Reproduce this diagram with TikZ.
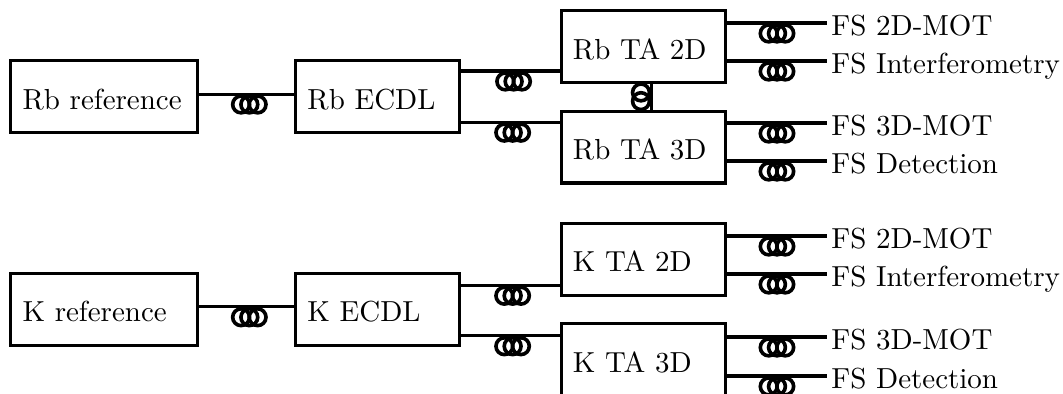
\documentclass[tikz,border=0pt]{standalone}
\usetikzlibrary{positioning}

\tikzset{
    coil/.pic={
        \draw[line width=1.25pt] (-2.85pt,-3.6pt) circle (2.9pt);
        \draw[line width=1.25pt] (0,-3.6pt) circle (2.9pt);
        \draw[line width=1.25pt] (2.85pt,-3.6pt) circle (2.9pt);
    },
    shortcoil/.pic={
        \draw[line width=1.25pt] (-1.5pt,-3.6pt) circle (2.9pt);
        \draw[line width=1.25pt] (1.5pt,-3.6pt) circle (2.9pt);
    }
}

\begin{document}
\begin{tikzpicture}[
            x = 0.345pt,
            y = -0.345pt,
            line width = 1.05pt
        ]
        \tikzstyle{every box}=[
            draw = black,
            fill = white,
            rectangle,
            align = left,
            inner xsep = 4pt,
            inner ysep = 0pt,
            minimum height = 24.8pt,
            text height = 8.7pt,
            text depth = 0pt
        ]
        \tikzstyle{box}=[every box, text width = 48.6pt]
        \tikzstyle{refbox}=[every box, text width = 56.2pt]
        \tikzstyle{fslabel}=[
            anchor = west,
            inner sep = 1pt,
            text height = 8.8pt,
            text depth = 0pt
        ]
        \useasboundingbox (0,0) rectangle (1063,394);
        \clip (0,0) rectangle (1063,394);

        % rubidium bench
        \node[refbox] (rbref) at (104,96.5) {Rb reference};
        \node[box] (rbecdl) [right of=rbref, node distance=94.5pt] {Rb ECDL};
        \node[box] (rbta2d) [right of=rbecdl, node distance=91.6pt, yshift=17.25pt] {Rb TA 2D};
        \node[box] (rbta3d) [below of=rbta2d, node distance=34.7pt] {Rb TA 3D};

        \node[fslabel] (rbfs1) at (827,23) {FS 2D-MOT};
        \node[fslabel] (rbfs2) at (827,61) {FS Interferometry};
        \node[fslabel] (rbfs3) at (827,123) {FS 3D-MOT};
        \node[fslabel] (rbfs4) at (827,161) {FS Detection};

        \coordinate (rbout) at ([yshift=0.85pt]rbref.east);
        \coordinate (rbin2d) at ([yshift=-8.45pt]rbta2d.west);
        \coordinate (rbin3d) at ([yshift=8.6pt]rbta3d.west);

        \draw (rbout) -- pic[pos=0.53] {coil} (rbout -| rbecdl.west);
        \draw (rbin2d -| rbecdl.east) -- pic[pos=0.53] {coil} (rbin2d);
        \draw (rbin3d -| rbecdl.east) -- pic[pos=0.52] {coil} (rbin3d);
        \draw ([xshift=2.76pt]rbta2d.south) -- pic[rotate=-90] {shortcoil} ([xshift=2.76pt]rbta3d.north);

        \draw (rbta2d.east |- rbfs1.west) -- pic {coil} (rbfs1.west);
        \draw (rbta2d.east |- rbfs2.west) -- pic {coil} (rbfs2.west);
        \draw (rbta3d.east |- rbfs3.west) -- pic {coil} (rbfs3.west);
        \draw (rbta3d.east |- rbfs4.west) -- pic {coil} (rbfs4.west);

        % potassium bench
        \node[refbox] (kref) [below of=rbref, node distance=73.4pt] {K reference};
        \node[box] (kecdl) [below of=rbecdl, node distance=73.4pt] {K ECDL};
        \node[box] (kta2d) [below of=rbta2d, node distance=73.4pt] {K TA 2D};
        \node[box] (kta3d) [below of=rbta3d, node distance=73.4pt] {K TA 3D};

        \node[fslabel] (kfs1) at (827,236) {FS 2D-MOT};
        \node[fslabel] (kfs2) at (827,274) {FS Interferometry};
        \node[fslabel] (kfs3) at (827,337) {FS 3D-MOT};
        \node[fslabel] (kfs4) at (827,376) {FS Detection};

        \coordinate (kout) at ([yshift=0.85pt]kref.east);
        \coordinate (kin2d) at ([yshift=-8.97pt]kta2d.west);
        \coordinate (kin3d) at ([yshift=8.3pt]kta3d.west);

        \draw (kout) -- pic[pos=0.53] {coil} (kout -| kecdl.west);
        \draw (kin2d -| kecdl.east) -- pic[pos=0.52] {coil} (kin2d);
        \draw (kin3d -| kecdl.east) -- pic[pos=0.52] {coil} (kin3d);

        \draw (kta2d.east |- kfs1.west) -- pic {coil} (kfs1.west);
        \draw (kta2d.east |- kfs2.west) -- pic {coil} (kfs2.west);
        \draw (kta3d.east |- kfs3.west) -- pic {coil} (kfs3.west);
        \draw (kta3d.east |- kfs4.west) -- pic {coil} (kfs4.west);
\end{tikzpicture}
\end{document}
